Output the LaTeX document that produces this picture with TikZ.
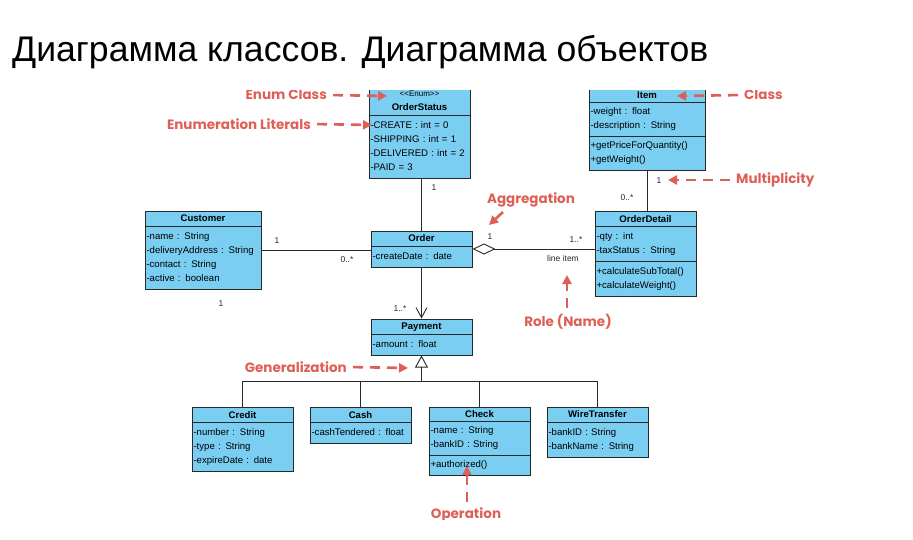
\documentclass[tikz,border=0pt]{standalone}
\usepackage{fontspec}
\setmainfont{Liberation Sans}
\newfontfamily\notefont{Poppins}
\usetikzlibrary{arrows.meta, positioning, calc, shapes.multipart}
\definecolor{clsblue}{RGB}{122,206,242}
\definecolor{notered}{RGB}{222,95,85}
\definecolor{linegray}{RGB}{40,40,40}
\newcommand{\clsname}[1]{\centering\rule[-1pt]{0pt}{8pt}\smash{\textbf{#1}}\par}
\newcommand{\clsrows}[1]{\raggedright\strut#1\strut\par}

\begin{document}
\begin{tikzpicture}[
    x=1pt, y=-1pt,
    cls/.style={rectangle split, rectangle split parts=2, draw=linegray, line width=1pt,
        fill=clsblue, inner xsep=1.5pt, inner ysep=3pt, text width=98pt,
        font=\fontsize{9.6}{14}\selectfont, anchor=north west},
    wcls/.style={cls, text width=113pt},
    assoc/.style={draw=linegray, line width=0.9pt},
    mult/.style={font=\fontsize{8.5}{10}\selectfont, text=linegray, inner sep=0pt},
    note/.style={font=\notefont\bfseries\fontsize{13.5}{15}\selectfont, text=notered, inner sep=0pt},
    notearrow/.style={draw=notered, line width=2.6pt, dash pattern=on 10pt off 7pt,
        -{Triangle[length=9pt, width=9pt]}, shorten <=6pt}
]
\useasboundingbox (0,0) rectangle (913,539);
% Title
\node[anchor=base west, font=\fontsize{35.6}{40}\selectfont, inner sep=0pt] (title) at (12,61) {Диаграмма классов. Диаграмма объектов};

\begin{scope}
\clip (0,90) rectangle (913,519);
% Classes
\node[cls, anchor=south west] (ordstat) at (368.5,178.5) {\centering{\fontsize{8}{9}\selectfont\textless\kern0pt\textless Enum\textgreater\kern0pt\textgreater}\\ \rule[-1pt]{0pt}{7pt}\smash{\textbf{OrderStatus}}\par
    \nodepart{two}\clsrows{-CREATE : int = 0\\ -SHIPPING : int = 1\\ -DELIVERED : int = 2\\ -PAID = 3}};
\node[wcls, rectangle split parts=3, inner ysep=2.5pt, anchor=south west] (item) at (588.5,170.5) {\clsname{Item}
    \nodepart{two}\clsrows{-weight : float\\ -description : String}
    \nodepart{three}\clsrows{+getPriceForQuantity()\\ +getWeight()}};
\node[wcls] (cust) at (144.5,210.5) {\clsname{Customer}
    \nodepart{two}\clsrows{-name : String\\ -deliveryAddress : String\\ -contact : String\\ -active : boolean}};
\node[cls] (order) at (370.5,230.5) {\clsname{Order}
    \nodepart{two}\clsrows{-createDate : date}};
\node[cls, rectangle split parts=3] (odet) at (594.5,211) {\clsname{OrderDetail}
    \nodepart{two}\clsrows{-qty : int\\ -taxStatus : String}
    \nodepart{three}\clsrows{+calculateSubTotal()\\ +calculateWeight()}};
\node[cls] (pay) at (370.5,318.5) {\clsname{Payment}
    \nodepart{two}\clsrows{-amount : float}};
\node[cls] (credit) at (191.5,407) {\clsname{Credit}
    \nodepart{two}\clsrows{-number : String\\ -type : String\\ -expireDate : date}};
\node[cls] (cash) at (309.5,407) {\clsname{Cash}
    \nodepart{two}\clsrows{-cashTendered : float}};
\node[cls, rectangle split parts=3, inner ysep=2.5pt] (check) at (428.5,406.5) {\clsname{Check}
    \nodepart{two}\clsrows{-name : String\\ -bankID : String}
    \nodepart{three}\clsrows{+authorized()}};
\node[cls] (wire) at (546.5,406.5) {\clsname{WireTransfer}
    \nodepart{two}\clsrows{-bankID : String\\ -bankName : String}};

% Associations
\draw[assoc] (cust.east) -- (cust.east -| order.west);
\draw[assoc] (order.north |- ordstat.south) -- (order.north);
\draw[assoc, -{Straight Barb[length=10pt, width=11pt]}] (order.south) -- (pay.north);
\draw[assoc, {Diamond[open, length=23pt, width=11pt]}-] (order.east) -- (order.east -| odet.west);
\draw[assoc] (item.south) -- (item.south |- odet.north);

% Generalization
\coordinate (bus) at ($(pay.south)+(0,26)$);
\draw[assoc, -{Triangle[open, length=12pt, width=13pt]}] (bus) -- (pay.south);
\draw[assoc] (credit.north) |- (bus) -| (wire.north);
\draw[assoc] (cash.north) -- (cash.north |- bus);
\draw[assoc] (check.north) -- (check.north |- bus);

% Multiplicities and role
\node[mult] (m-os) at (434,188) {1};
\node[mult] (m-cu) at (277,241) {1};
\node[mult] (m-or) at (347,260) {0..*};
\node[mult] (m-one) at (221,304) {1};
\node[mult] (m-ag) at (490,237) {1};
\node[mult] (m-od) at (576,240) {1..*};
\node[mult] (role) at (563,258) {line item};
\node[mult] (m-it) at (659,181) {1};
\node[mult] (m-de) at (627,198) {0..*};
\node[mult] (m-pa) at (400,309) {1..*};

% Notes
\node[note, anchor=east] (enumlbl) at (327,95) {Enum Class};
\node[note, anchor=east] (litlbl) at (311,124) {Enumeration Literals};
\node[note, anchor=west] (classlbl) at (744,95) {Class};
\node[note, anchor=west] (multlbl) at (736,180) {Multiplicity};
\node[note] (aggrlbl) at (531,200) {Aggregation};
\node[note] (rolelbl) at (568,322) {Role (Name)};
\node[note, anchor=east] (genlbl) at (347,367) {Generalization};
\node[note] (oplbl) at (466,515) {Operation};

\coordinate (enumtip) at (387,96);
\coordinate (littip) at (372,125);
\coordinate (classtip) at (677,96);
\coordinate (multtip) at (668,180);
\coordinate (aggrtail) at (503,212);
\coordinate (aggrtip) at (489,225);
\coordinate (roletip) at (567,275);
\coordinate (gentip) at (408,368);
\coordinate (optip) at (467,466);

\draw[notearrow] (enumlbl.east) -- (enumtip);
\draw[notearrow] (litlbl.east) -- (littip);
\draw[notearrow] (classlbl.west) -- (classtip);
\draw[notearrow] (multlbl.west) -- (multtip);
\draw[notearrow, shorten <=0pt] (aggrtail) -- (aggrtip);
\draw[notearrow] (rolelbl.north -| roletip) -- (roletip);
\draw[notearrow] (genlbl.east) -- (gentip);
\draw[notearrow] (oplbl.north -| optip) -- (optip);
\end{scope}
\end{tikzpicture}
\end{document}
